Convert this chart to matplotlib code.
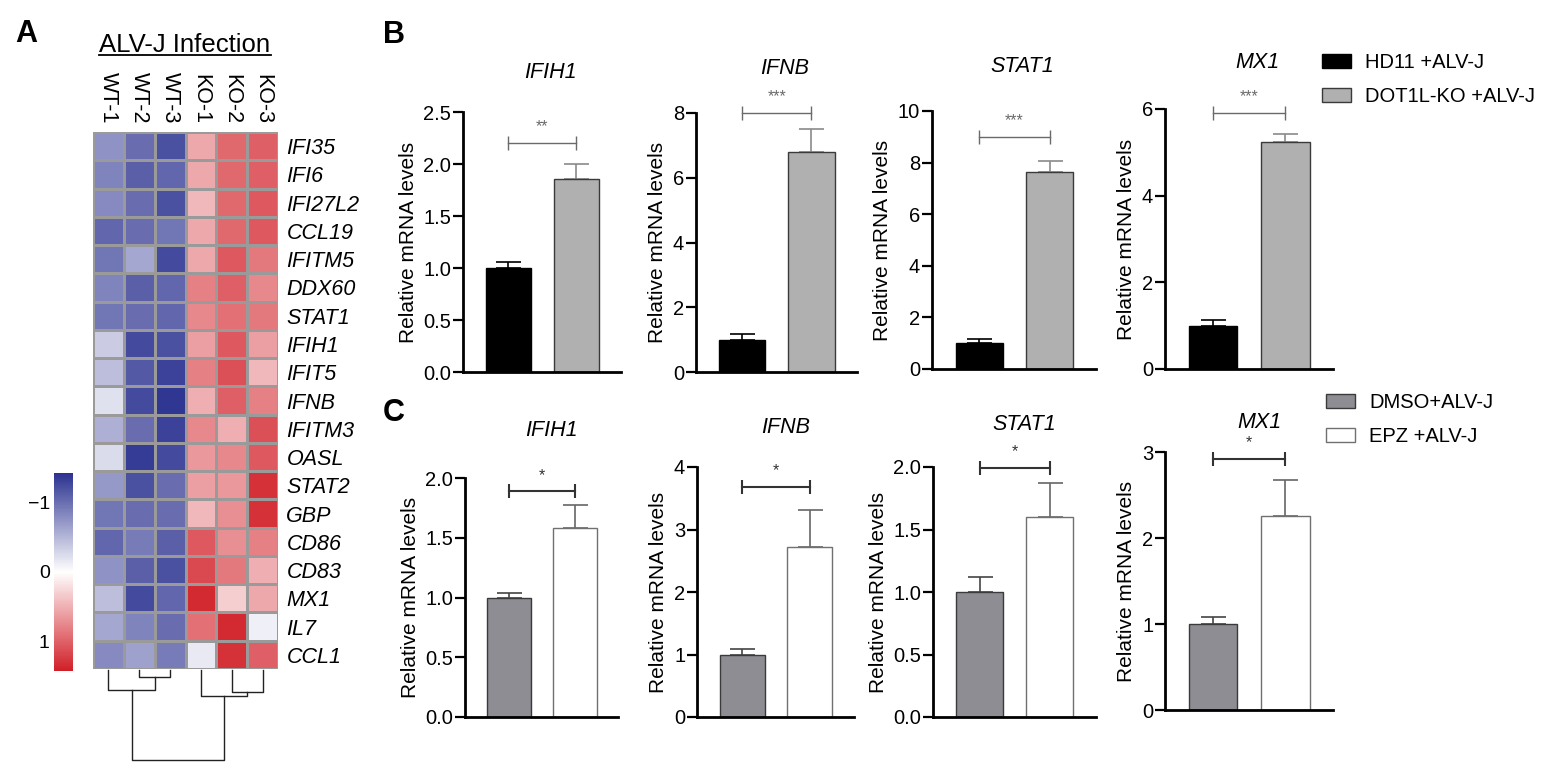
import numpy as np
import matplotlib
matplotlib.use('Agg')
import matplotlib.pyplot as plt
from matplotlib.colors import LinearSegmentedColormap

plt.rcParams['font.family'] = ['Liberation Sans', 'DejaVu Sans']

W, H = 1562, 775

# ---------------- data: heatmap (panel A) ----------------
samples = ['WT-1', 'WT-2', 'WT-3', 'KO-1', 'KO-2', 'KO-3']
heat_genes = ['IFI35', 'IFI6', 'IFI27L2', 'CCL19', 'IFITM5', 'DDX60', 'STAT1',
              'IFIH1', 'IFIT5', 'IFNB', 'IFITM3', 'OASL', 'STAT2', 'GBP',
              'CD86', 'CD83', 'MX1', 'IL7', 'CCL1']
heat_values = [
    [-0.75, -1.00, -1.20, 0.55, 0.95, 1.00],
    [-0.85, -1.10, -1.05, 0.55, 0.95, 1.00],
    [-0.80, -1.00, -1.20, 0.45, 0.95, 1.05],
    [-1.05, -1.00, -0.95, 0.55, 0.95, 1.05],
    [-0.95, -0.60, -1.25, 0.55, 1.05, 0.85],
    [-0.85, -1.10, -1.05, 0.80, 1.00, 0.75],
    [-0.95, -1.00, -1.05, 0.75, 0.90, 0.85],
    [-0.35, -1.25, -1.20, 0.60, 1.05, 0.60],
    [-0.45, -1.15, -1.30, 0.80, 1.10, 0.45],
    [-0.20, -1.25, -1.38, 0.50, 1.00, 0.80],
    [-0.55, -1.00, -1.30, 0.75, 0.50, 1.10],
    [-0.25, -1.35, -1.25, 0.65, 0.75, 1.05],
    [-0.70, -1.20, -1.00, 0.60, 0.65, 1.30],
    [-0.95, -1.00, -1.00, 0.45, 0.70, 1.30],
    [-1.05, -0.90, -1.10, 1.05, 0.70, 0.80],
    [-0.75, -1.10, -1.20, 1.15, 0.85, 0.50],
    [-0.45, -1.25, -1.05, 1.35, 0.30, 0.55],
    [-0.60, -0.85, -1.00, 0.90, 1.35, -0.10],
    [-0.80, -0.65, -0.90, -0.15, 1.30, 1.00],
]
# column dendrogram: (cluster a, cluster b, height); new clusters numbered from 6
col_merges = [(1, 2, 0.7), (0, 6, 2.0), (4, 5, 2.2), (3, 8, 2.6), (7, 9, 9.0)]

# ---------------- data: qPCR bars (panels B and C) ----------------
bar_genes = ['IFIH1', 'IFNB', 'STAT1', 'MX1']

b_labels = ['HD11 +ALV-J', 'DOT1L-KO +ALV-J']
b_ctrl = [1.0, 1.0, 1.0, 1.0]
b_ctrl_err = [0.06, 0.18, 0.16, 0.13]
b_ko = [1.86, 6.8, 7.64, 5.24]
b_ko_err = [0.14, 0.7, 0.43, 0.18]
b_ymax = [2.5, 8, 10, 6]
b_ystep = [0.5, 2, 2, 2]
b_sig = ['**', '***', '***', '***']
b_sig_y = [2.2, 8.0, 9.0, 5.9]

c_labels = ['DMSO+ALV-J', 'EPZ +ALV-J']
c_dmso = [1.0, 1.0, 1.0, 1.0]
c_dmso_err = [0.04, 0.09, 0.12, 0.08]
c_epz = [1.58, 2.72, 1.6, 2.26]
c_epz_err = [0.19, 0.6, 0.27, 0.41]
c_ymax = [2.0, 4, 2.0, 3]
c_ystep = [0.5, 1, 0.5, 1]
c_sig = ['*', '*', '*', '*']
c_sig_y = [1.89, 3.68, 1.99, 2.92]


def px_axes(fig, x0, y0, x1, y1):
    # axes from pixel box (top-left origin)
    return fig.add_axes([x0 / W, 1 - y1 / H, (x1 - x0) / W, (y1 - y0) / H])


def bar_panel(ax, vals, errs, colors, edges, ecolors, ymax, ystep, sig, sig_y,
              sig_color, sig_lw, decimals):
    x = np.arange(2)
    bars = []
    for i in range(2):
        b = ax.bar(x[i], vals[i], width=0.67, color=colors[i], edgecolor=edges[i],
                   linewidth=1.0, zorder=2)
        ax.errorbar(x[i], vals[i], yerr=[[0], [errs[i]]], fmt='none', ecolor=ecolors[i],
                    elinewidth=1.2, capsize=9, capthick=1.2, zorder=1)
        bars.append(b)
    ax.plot(x, [sig_y, sig_y], color=sig_color, lw=sig_lw, marker='|', ms=10,
            mew=sig_lw, clip_on=False)
    ax.text(0.5, sig_y + ymax * 0.035, sig, ha='center', va='bottom', fontsize=11.5,
            color=sig_color)
    ax.set_xlim(-0.67, 1.66)
    ax.set_ylim(0, ymax)
    ticks = np.arange(0, ymax + ystep / 2, ystep)
    ax.set_yticks(ticks)
    ax.set_yticklabels([f'{t:.{decimals}f}' for t in ticks])
    ax.set_xticks([])
    for s in ['top', 'right']:
        ax.spines[s].set_visible(False)
    for s in ['left', 'bottom']:
        ax.spines[s].set_linewidth(2.0)
    ax.tick_params(axis='y', direction='out', length=7.5, width=1.6, labelsize=14.5, pad=1)
    ax.set_ylabel('Relative mRNA levels', fontsize=15, labelpad=4)
    ax.patch.set_alpha(0)
    return bars


fig = plt.figure(figsize=(W / 100, H / 100), dpi=100)

# ---------------- panel A ----------------
cmap = LinearSegmentedColormap.from_list('bwr_ph', ['#2b3290', '#ffffff', '#d11f27'])
data = np.array(heat_values)
axh = px_axes(fig, 93, 132, 278, 669)
mesh = axh.pcolormesh(data, cmap=cmap, vmin=-1.42, vmax=1.42,
                      edgecolors='#9a9a9a', linewidth=1.0)
axh.set_xlim(0, len(samples))
axh.set_ylim(len(heat_genes), 0)
axh.set_yticks(np.arange(len(heat_genes)) + 0.5)
axh.set_yticklabels(heat_genes, fontsize=15.5, style='italic')
axh.yaxis.tick_right()
axh.set_xticks(np.arange(len(samples)) + 0.5)
axh.set_xticklabels(samples, fontsize=15.5, rotation=270)
axh.xaxis.tick_top()
axh.tick_params(length=0)
axh.tick_params(axis='y', pad=6)
axh.tick_params(axis='x', pad=6)
for s in axh.spines.values():
    s.set_visible(False)

cax = px_axes(fig, 54, 473, 73, 671)
cb = fig.colorbar(mesh, cax=cax, ticks=[-1, 0, 1])
cb.outline.set_visible(False)
cax.invert_yaxis()
cax.yaxis.set_ticks_position('left')
cax.tick_params(length=0, labelsize=14, pad=3)

# dendrogram
axd = px_axes(fig, 93, 669, 278, 762)
pos = {i: i + 0.5 for i in range(len(samples))}
hgt = {i: 0.0 for i in range(len(samples))}
for k, (a, b, h) in enumerate(col_merges):
    axd.plot([pos[a], pos[a], pos[b], pos[b]], [hgt[a], h, h, hgt[b]],
             color='#222222', lw=1.0)
    pos[len(samples) + k] = (pos[a] + pos[b]) / 2
    hgt[len(samples) + k] = h
axd.set_xlim(0, len(samples))
axd.set_ylim(9.2, -0.1)
axd.axis('off')

fig.text(185 / W, 1 - 45 / H, 'ALV-J Infection', fontsize=18.5, ha='center', va='center')
fig.add_artist(plt.Line2D([99 / W, 271 / W], [1 - 55 / H, 1 - 55 / H],
                          color='black', lw=1.3))

# ---------------- panel B ----------------
b_boxes = [(463, 112, 621, 372), (696, 113, 857, 372),
           (932, 111, 1096, 369), (1165, 109, 1333, 369)]
b_title_y = [73, 68, 67, 63]
for i, g in enumerate(bar_genes):
    ax = px_axes(fig, *b_boxes[i])
    bars_b = bar_panel(ax, [b_ctrl[i], b_ko[i]], [b_ctrl_err[i], b_ko_err[i]],
                       ['black', '#b0b0b0'], ['black', '#3a3a3a'], ['black', '#8a8a8a'],
                       b_ymax[i], b_ystep[i], b_sig[i], b_sig_y[i], '#6a6a6a', 1.0,
                       1 if b_ystep[i] < 1 else 0)
    cx = (b_boxes[i][0] + b_boxes[i][2]) / 2 + 8
    fig.text(cx / W, 1 - b_title_y[i] / H, g, fontsize=15.5, style='italic',
             ha='center', va='center')
    if i == 0:
        b_handles = bars_b

fig.legend(b_handles, b_labels, loc='upper left', bbox_to_anchor=(1322 / W, 1 - 53 / H),
           frameon=False, fontsize=14.5, handlelength=1.45, handleheight=0.75,
           handletextpad=0.7, labelspacing=0.75, borderaxespad=0, borderpad=0)

# ---------------- panel C ----------------
c_boxes = [(465, 478, 618, 717), (697, 467, 854, 717),
           (933, 467, 1096, 717), (1165, 452, 1333, 710)]
c_title_y = [430, 427, 425, 423]
for i, g in enumerate(bar_genes):
    ax = px_axes(fig, *c_boxes[i])
    bars_c = bar_panel(ax, [c_dmso[i], c_epz[i]], [c_dmso_err[i], c_epz_err[i]],
                       ['#8e8d93', 'white'], ['#3a3a3a', '#707070'], ['#444444', '#666666'],
                       c_ymax[i], c_ystep[i], c_sig[i], c_sig_y[i], '#333333', 1.5,
                       1 if c_ystep[i] < 1 else 0)
    cx = (c_boxes[i][0] + c_boxes[i][2]) / 2 + 10
    fig.text(cx / W, 1 - c_title_y[i] / H, g, fontsize=15.5, style='italic',
             ha='center', va='center')
    if i == 0:
        c_handles = bars_c

fig.legend(c_handles, c_labels, loc='upper left', bbox_to_anchor=(1326 / W, 1 - 393 / H),
           frameon=False, fontsize=14.5, handlelength=1.45, handleheight=0.75,
           handletextpad=0.7, labelspacing=0.75, borderaxespad=0, borderpad=0)

# panel letters
for letter, (lx, ly) in zip('ABC', [(26, 34), (394, 35), (394, 413)]):
    fig.text(lx / W, 1 - ly / H, letter, fontsize=22, fontweight='bold',
             ha='center', va='center')

fig.savefig('out.png', dpi=100)
